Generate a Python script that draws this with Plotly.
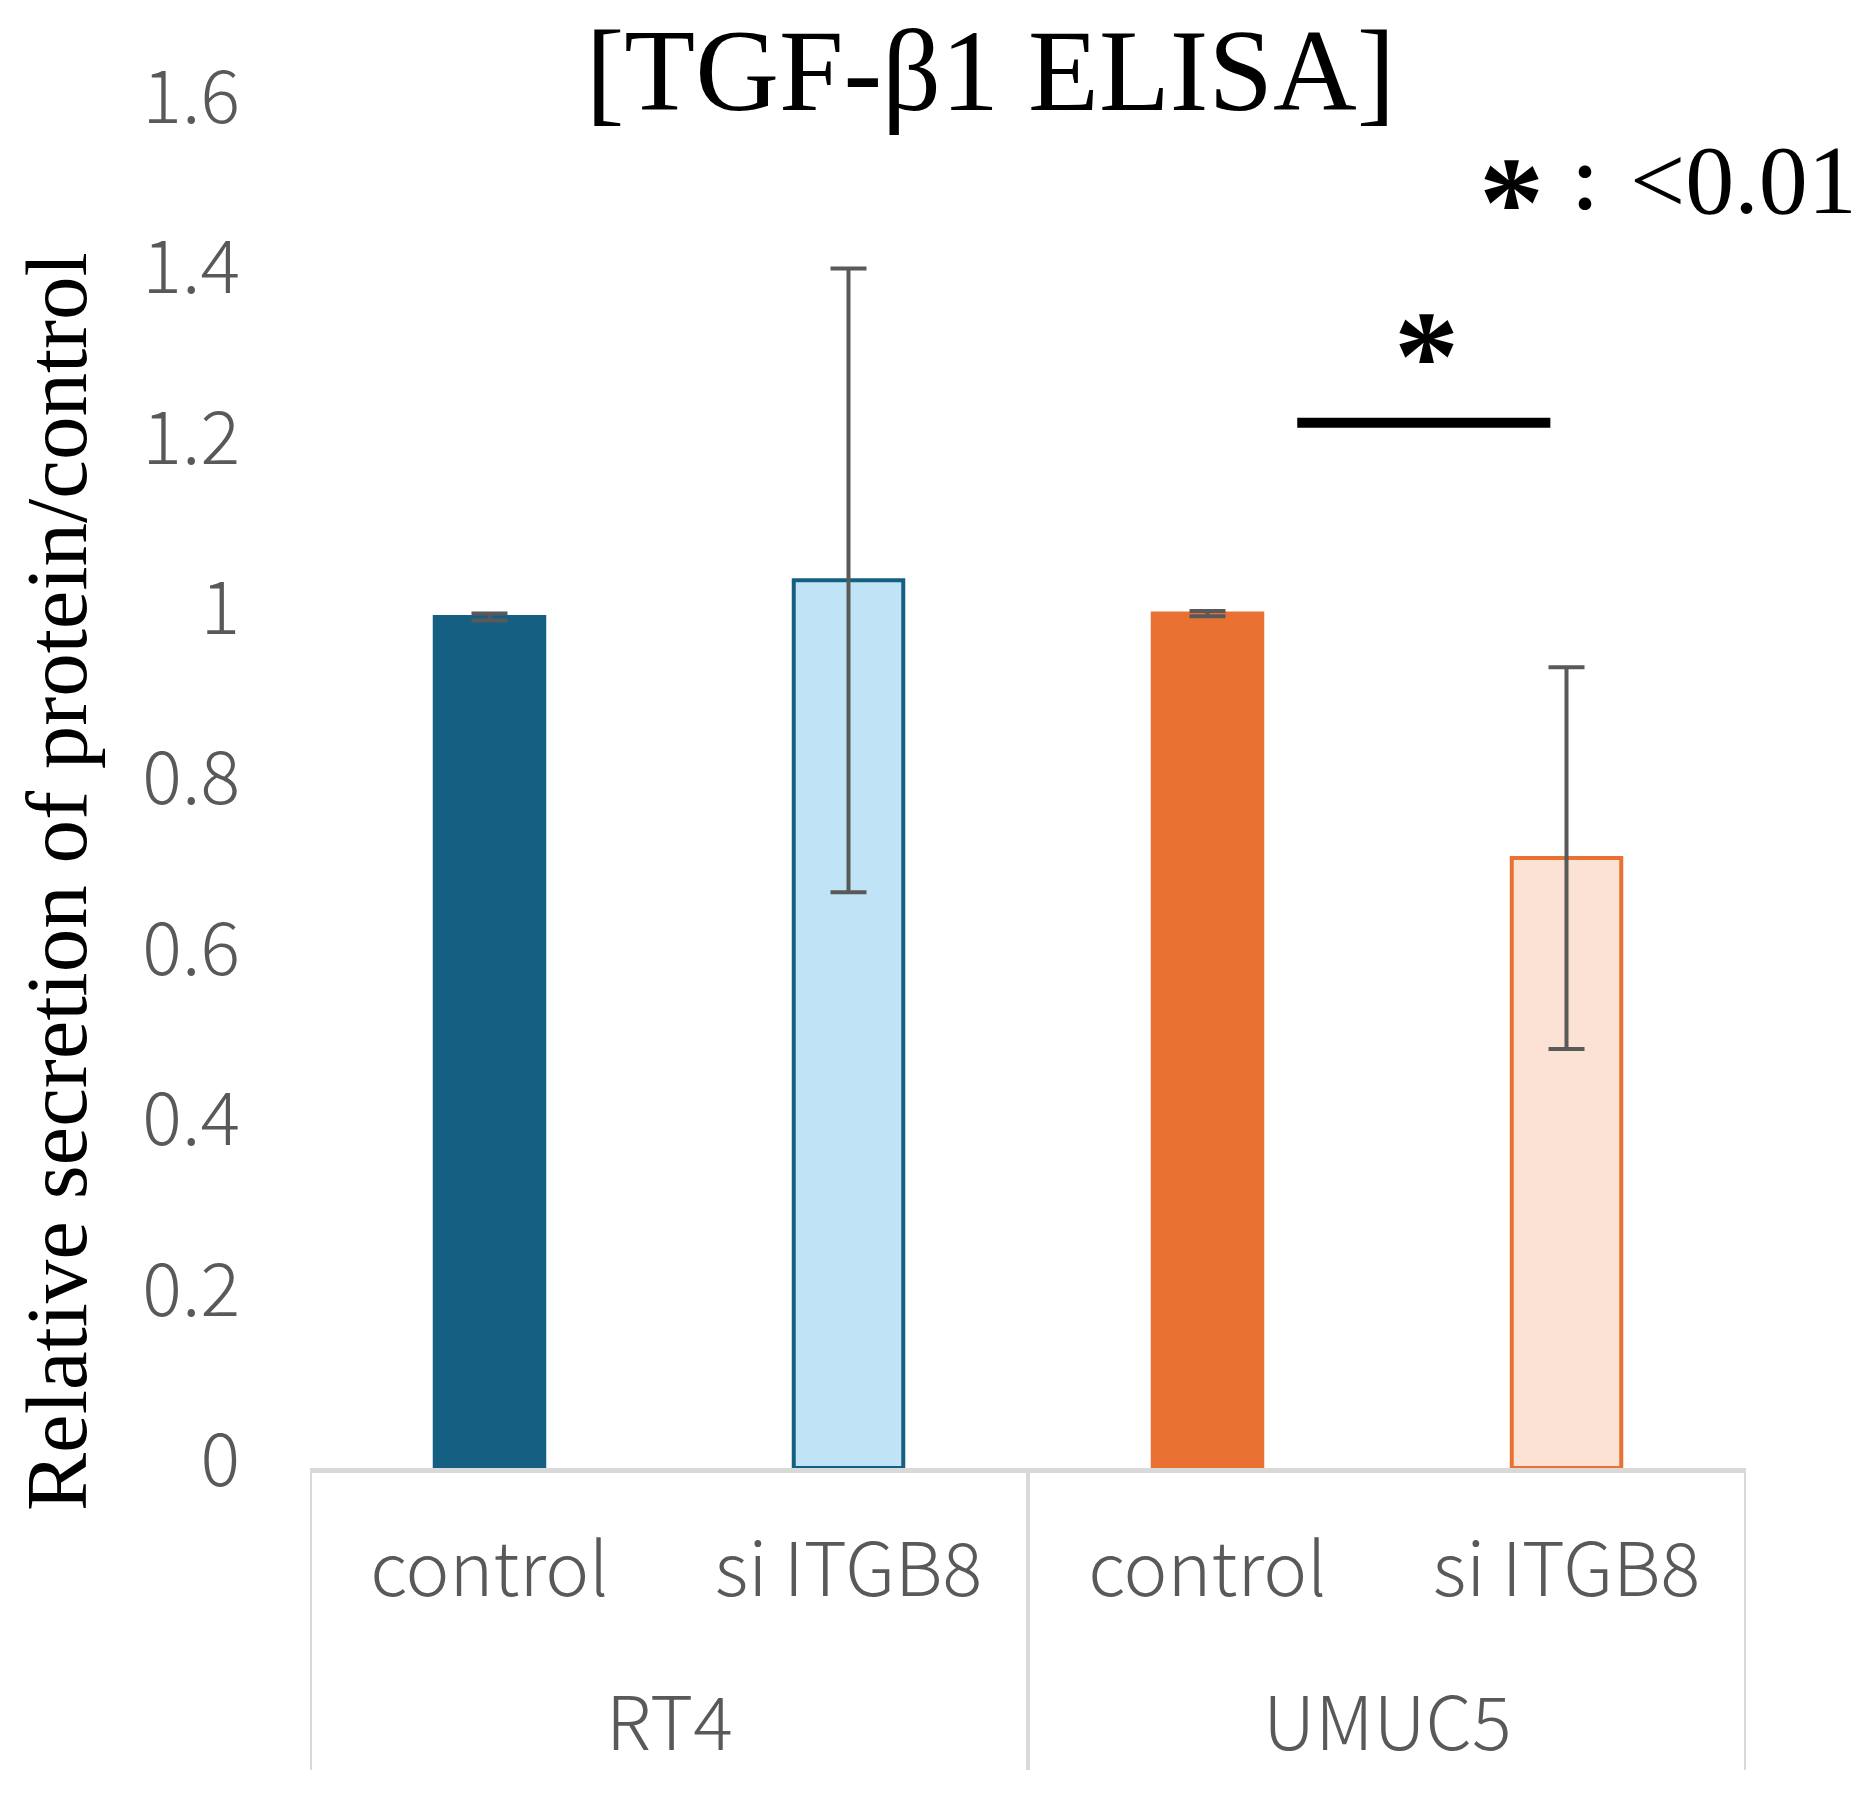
import plotly.graph_objects as go

# cell line groups and conditions (two-level category axis)
cell_lines = ["RT4", "RT4", "UMUC5", "UMUC5"]
conditions = ["control", "si ITGB8", "control", "si ITGB8"]
groups = ["RT4", "UMUC5"]

# relative secretion (mean) and error (SD)
values = [0.999, 1.042, 1.003, 0.716]
errors = [0.004, 0.366, 0.003, 0.224]

y_ticks = [0, 0.2, 0.4, 0.6, 0.8, 1, 1.2, 1.4, 1.6]
y_tick_labels = ["0", "0.2", "0.4", "0.6", "0.8", "1", "1.2", "1.4", "1.6"]

fill_colors = ["#156082", "#C0E4F5", "#E97132", "#FBE2D5"]
edge_colors = ["#156082", "#156082", "#E97132", "#E97132"]

SANS = "Noto Sans CJK JP"
SERIF = "Liberation Serif"
GREY = "#595959"
RULE = "#D9D9D9"

# unique category keys, shown with the condition name only
keys = [f"{g} {c}" for g, c in zip(cell_lines, conditions)]

fig = go.Figure()

fig.add_trace(
    go.Bar(
        x=keys,
        y=values,
        marker={
            "color": fill_colors,
            "line": {"color": edge_colors, "width": 4},
        },
        error_y={
            "type": "data",
            "array": errors,
            "visible": True,
            "color": GREY,
            "thickness": 4,
            "width": 18,
        },
        showlegend=False,
    )
)

# group labels and the table-like dividers under the axis
n_per_group = len(keys) // len(groups)
for i, g in enumerate(groups):
    fig.add_annotation(
        x=i * n_per_group + (n_per_group - 1) / 2,
        y=-0.183,
        xref="x",
        yref="paper",
        text=g,
        showarrow=False,
        yanchor="middle",
        font={"family": SANS, "size": 74, "color": GREY, "weight": 300},
    )
for i in range(len(groups) + 1):
    fig.add_shape(
        type="line",
        xref="x",
        yref="paper",
        x0=i * n_per_group - 0.5,
        x1=i * n_per_group - 0.5,
        y0=0,
        y1=-0.2216,
        line={"color": RULE, "width": 4},
    )

# significance bar between UMUC5 control and si ITGB8
fig.add_shape(
    type="line",
    xref="x",
    yref="y",
    x0=2.25,
    x1=2.955,
    y0=1.227,
    y1=1.227,
    line={"color": "black", "width": 10},
)
fig.add_annotation(
    x=2.61,
    y=1.305,
    xref="x",
    yref="y",
    yanchor="middle",
    text="<b>*</b>",
    showarrow=False,
    font={"family": SERIF, "size": 130, "color": "black"},
)

# p-value legend: "*：<0.01"
fig.add_annotation(
    x=0.837,
    y=0.929,
    xref="paper",
    yref="paper",
    xanchor="center",
    yanchor="middle",
    text="<b>*</b>",
    showarrow=False,
    font={"family": SERIF, "size": 130, "color": "black"},
)
fig.add_annotation(
    x=0.888,
    y=0.943,
    xref="paper",
    yref="paper",
    xanchor="center",
    yanchor="middle",
    text="<b>：</b>",
    showarrow=False,
    font={"family": SANS, "size": 66, "color": "black"},
)
fig.add_annotation(
    x=1.079,
    y=0.945,
    xref="paper",
    yref="paper",
    xanchor="right",
    yanchor="middle",
    text="<0.01",
    showarrow=False,
    font={"family": SERIF, "size": 98, "color": "black"},
)

# y axis title
fig.add_annotation(
    x=-0.1762,
    y=0.4307,
    xref="paper",
    yref="paper",
    xanchor="center",
    yanchor="middle",
    textangle=-90,
    text="Relative secretion of protein/control",
    showarrow=False,
    font={"family": SERIF, "size": 87, "color": "black"},
)

fig.update_layout(
    width=1875,
    height=1818,
    title={
        "text": "[TGF-β1 ELISA]",
        "x": 0.524,
        "xanchor": "center",
        "y": 0.966,
        "yanchor": "middle",
        "font": {"family": SERIF, "size": 116, "color": "black"},
    },
    xaxis={
        "type": "category",
        "range": [-0.5, len(keys) - 0.5],
        "tickvals": keys,
        "ticktext": conditions,
        "showline": True,
        "linecolor": RULE,
        "linewidth": 5,
        "ticks": "",
        "ticklabelstandoff": 34,
        "tickfont": {"family": SANS, "size": 74, "color": GREY, "weight": 300},
        "showgrid": False,
        "zeroline": False,
    },
    yaxis={
        "range": [0, 1.6],
        "tickvals": y_ticks,
        "ticktext": y_tick_labels,
        "tickfont": {"family": SANS, "size": 74, "color": GREY, "weight": 300},
        "ticks": "",
        "ticklabelstandoff": 69,
        "ticklabelshift": -8,
        "showgrid": False,
        "zeroline": False,
        "showline": False,
    },
    bargap=0.695,
    margin={"l": 302, "r": 137, "t": 97, "b": 358},
    plot_bgcolor="white",
    paper_bgcolor="white",
)

fig.write_html("out.html")
